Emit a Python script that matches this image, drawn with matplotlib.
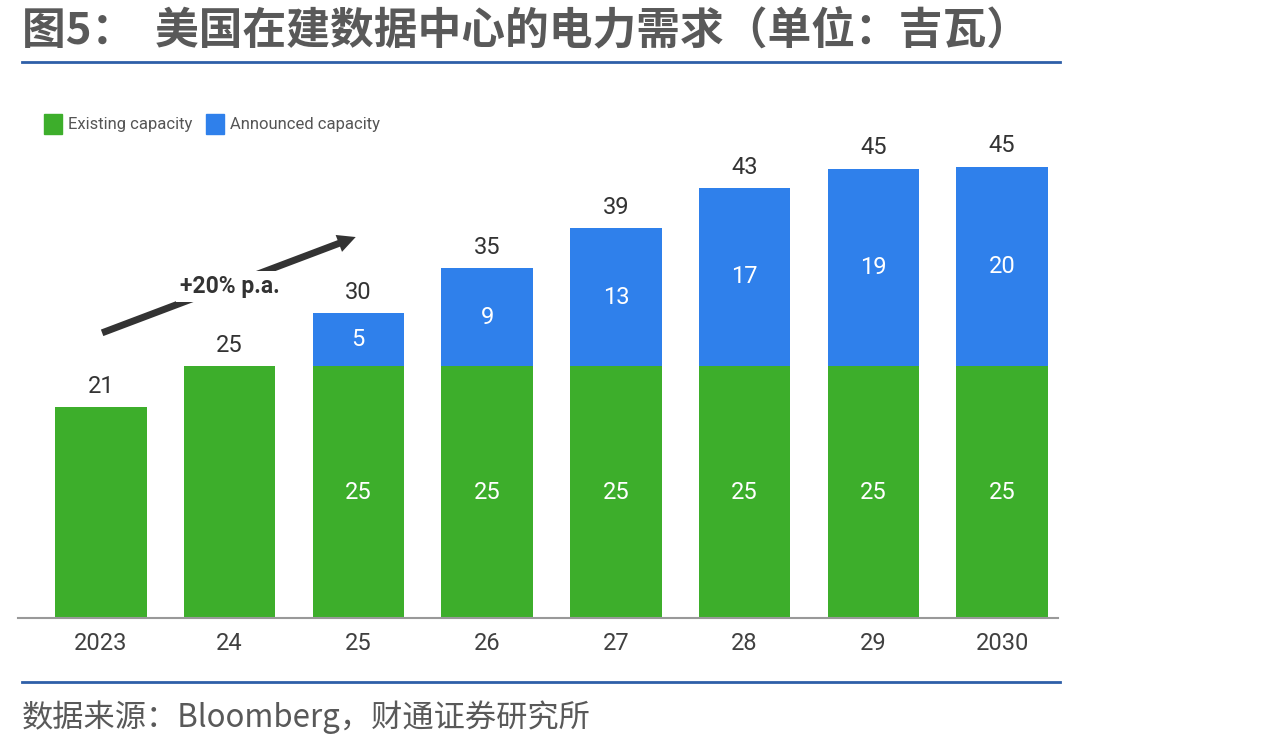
import matplotlib.pyplot as plt

plt.rcParams['font.family'] = ['Noto Sans CJK SC', 'DejaVu Sans']

# Data
years = ['2023', '24', '25', '26', '27', '28', '29', '2030']
existing = [20.9, 25, 25, 25, 25, 25, 25, 25]
announced = [0, 0, 5.3, 9.7, 13.7, 17.7, 19.6, 19.8]
existing_labels = ['21', '25', '25', '25', '25', '25', '25', '25']
announced_labels = ['', '', '5', '9', '13', '17', '19', '20']
totals = [21, 25, 30, 35, 39, 43, 45, 45]

green = '#3DAE2B'
blue = '#2F80EB'

W, H = 1275, 748
fig = plt.figure(figsize=(W / 100, H / 100), dpi=100)

# axes placed in pixel terms
left, right, bottom, top = 18, 1058, 618, 100
ax = fig.add_axes([left / W, 1 - bottom / H, (right - left) / W, (bottom - top) / H])

x = list(range(len(years)))
ax.bar(x, existing, width=0.71, color=green, zorder=2)
ax.bar(x, announced, width=0.71, bottom=existing, color=blue, zorder=2)

ax.set_xlim(-0.643, 7.434)
ax.set_ylim(0, 51.4)

for i in x:
    ax.text(i, existing[i] + announced[i] + 0.9, str(totals[i]), ha='center', va='bottom',
            fontsize=17, color='#333333', family='Roboto')
    if announced[i] > 0:
        ax.text(i, existing[i] / 2, existing_labels[i], ha='center', va='center',
                fontsize=17, color='white', family='Roboto')
        ax.text(i, existing[i] + announced[i] / 2, announced_labels[i], ha='center',
                va='center', fontsize=17, color='white', family='Roboto')

ax.set_xticks(x)
ax.set_xticklabels(years, fontsize=17, color='#404040', family='Roboto')
ax.tick_params(axis='x', length=0, pad=10)
ax.set_yticks([])
for s in ['top', 'right', 'left']:
    ax.spines[s].set_visible(False)
ax.spines['bottom'].set_color('#999999')
ax.spines['bottom'].set_linewidth(1.5)

# growth arrow
ax.annotate('', xy=(2.0, 37.9), xytext=(-0.01, 28.2),
            arrowprops=dict(arrowstyle='simple,head_length=1.3,head_width=1.3,tail_width=0.5',
                            color='#333333', lw=0), zorder=3)
ax.text(1.0, 32.9, '+20% p.a.', ha='center', va='center', fontsize=16.5,
        fontweight='bold', color='#333333', family='Roboto',
        bbox=dict(facecolor='white', edgecolor='none', pad=3), zorder=4)

# legend
fig.patches.append(plt.Rectangle((44 / W, 1 - 134 / H), 18 / W, 20 / H,
                                 transform=fig.transFigure, color=green))
fig.text(68 / W, 1 - 124 / H, 'Existing capacity', fontsize=12, color='#555555',
         va='center', family='Roboto')
fig.patches.append(plt.Rectangle((206 / W, 1 - 134 / H), 18 / W, 20 / H,
                                 transform=fig.transFigure, color=blue))
fig.text(230 / W, 1 - 124 / H, 'Announced capacity', fontsize=12, color='#555555',
         va='center', family='Roboto')

# title and source
fig.text(22 / W, 1 - 30 / H, '图5：  美国在建数据中心的电力需求（单位：吉瓦）',
         fontsize=31.5, fontweight='bold', color='#595959', va='center')
fig.add_artist(plt.Line2D([22 / W, 1060 / W], [1 - 62 / H, 1 - 62 / H],
                          color='#2E5FA8', lw=2))
fig.add_artist(plt.Line2D([22 / W, 1060 / W], [1 - 682 / H, 1 - 682 / H],
                          color='#2E5FA8', lw=2))
fig.text(22 / W, 1 - 717 / H, '数据来源：Bloomberg，财通证券研究所',
         fontsize=22.5, color='#595959', va='center')

fig.savefig('out.png', dpi=100)
